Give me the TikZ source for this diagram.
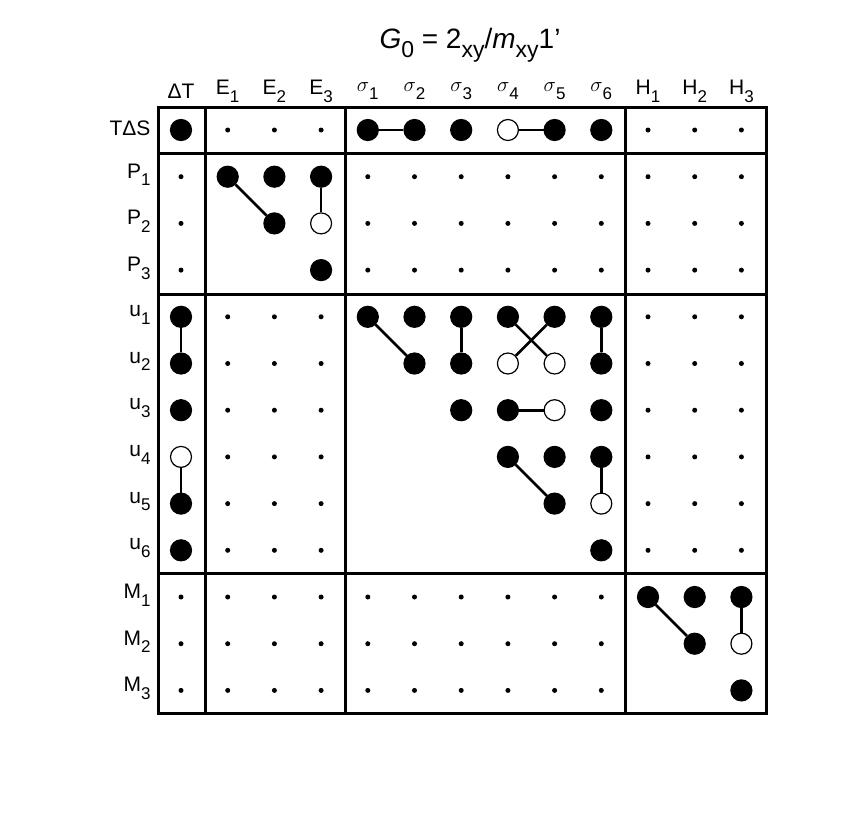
\documentclass[tikz,border=0pt]{standalone}
\usepackage{fontspec}
\setmainfont{Liberation Sans}
\newcommand{\sub}[1]{\raisebox{-0.7ex}{\fontsize{17}{17}\selectfont #1}}
\newcommand{\tsub}[1]{\raisebox{-0.6ex}{\fontsize{23}{23}\selectfont #1}}
\tikzset{
  cf/.style={circle,draw,fill=black,minimum size=21pt,inner sep=0pt,line width=1.2pt},
  co/.style={circle,draw,fill=white,minimum size=21pt,inner sep=0pt,line width=1.2pt},
  cs/.style={circle,fill=black,minimum size=5pt,inner sep=0pt},
  cn/.style={inner sep=0pt,minimum size=0pt},
  lbl/.style={font=\fontsize{21}{21}\selectfont},
  link/.style={line width=2.6pt},
  frame/.style={line width=3pt}
}
\begin{document}
\begin{tikzpicture}[x=1pt,y=-1pt]
  \useasboundingbox (0,0) rectangle (856,812);
  \node[font=\fontsize{28}{28}\selectfont] (title) at (470,45) {\textit{G}\tsub{0} = 2\tsub{xy}/\textit{m}\tsub{xy}1'};
  % column labels
  \foreach \t [count=\c] in {ΔT,E\sub{1},E\sub{2},E\sub{3},$\sigma$\sub{1},$\sigma$\sub{2},$\sigma$\sub{3},$\sigma$\sub{4},$\sigma$\sub{5},$\sigma$\sub{6},H\sub{1},H\sub{2},H\sub{3}}
    \node[lbl] (col\c) at ({181+46.7*(\c-1)},91) {\t};
  % row labels
  \foreach \t [count=\r] in {TΔS,P\sub{1},P\sub{2},P\sub{3},u\sub{1},u\sub{2},u\sub{3},u\sub{4},u\sub{5},u\sub{6},M\sub{1},M\sub{2},M\sub{3}}
    \node[lbl,anchor=east] (row\r) at (154,{128+46.7*(\r-1)}) {\t};
  % frame
  \draw[frame] (158,107) rectangle (766,713);
  \draw[frame] (205,107) -- (205,713);
  \draw[frame] (345,107) -- (345,713);
  \draw[frame] (625,107) -- (625,713);
  \draw[frame] (158,153) -- (766,153);
  \draw[frame] (158,294) -- (766,294);
  \draw[frame] (158,573) -- (766,573);
  % cells
  \foreach \r/\row in {
    1/{f,s,s,s,f,f,f,o,f,f,s,s,s},
    2/{s,f,f,f,s,s,s,s,s,s,s,s,s},
    3/{s,n,f,o,s,s,s,s,s,s,s,s,s},
    4/{s,n,n,f,s,s,s,s,s,s,s,s,s},
    5/{f,s,s,s,f,f,f,f,f,f,s,s,s},
    6/{f,s,s,s,n,f,f,o,o,f,s,s,s},
    7/{f,s,s,s,n,n,f,f,o,f,s,s,s},
    8/{o,s,s,s,n,n,n,f,f,f,s,s,s},
    9/{f,s,s,s,n,n,n,n,f,o,s,s,s},
    10/{f,s,s,s,n,n,n,n,n,f,s,s,s},
    11/{s,s,s,s,s,s,s,s,s,s,f,f,f},
    12/{s,s,s,s,s,s,s,s,s,s,n,f,o},
    13/{s,s,s,s,s,s,s,s,s,s,n,n,f}}
    \foreach \t [count=\c] in \row
      \node[c\t] (c-\r-\c) at ({181+46.7*(\c-1)},{130+46.7*(\r-1)}) {};
  % links
  \foreach \a/\b in {1-5/1-6,1-8/1-9,2-2/3-3,2-4/3-4,5-1/6-1,8-1/9-1,
      5-5/6-6,5-7/6-7,5-8/6-9,5-9/6-8,5-10/6-10,7-8/7-9,8-8/9-9,8-10/9-10,
      11-11/12-12,11-13/12-13}
    \draw[link] (c-\a) -- (c-\b);
\end{tikzpicture}
\end{document}
